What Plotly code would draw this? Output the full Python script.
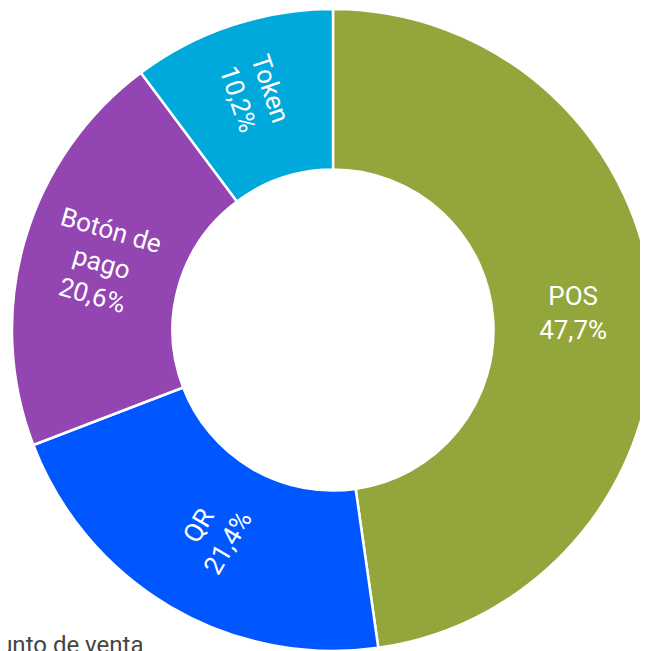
import math
import plotly.graph_objects as go

labels = ["POS", "QR", "Botón de pago", "Token"]
label_lines = ["POS", "QR", "Botón de<br>pago", "Token"]
values = [47.7, 21.4, 20.6, 10.2]
value_text = ["47,7%", "21,4%", "20,6%", "10,2%"]
colors = ["#93A63C", "#0057FF", "#9345B2", "#00A9DC"]
footnote = "Punto de venta"

slice_text = [f"{l}<br>{v}" for l, v in zip(label_lines, value_text)]
orientation = ["horizontal", "radial", "annot", "radial"]

W, H = 648, 651
M = dict(l=2, r=0, t=1, b=8)
HOLE = 0.5
FONT = dict(family="Roboto", size=26, color="white")

common = dict(
    labels=labels, values=values, hole=HOLE, sort=False,
    direction="clockwise", rotation=0, showlegend=False,
    hoverinfo="skip", textposition="inside", texttemplate="%{text}",
    insidetextfont=FONT,
)

fig = go.Figure(go.Pie(
    text=[t if o == "horizontal" else "" for t, o in zip(slice_text, orientation)],
    insidetextorientation="horizontal",
    marker=dict(colors=colors, line=dict(color="white", width=2.5)),
    **common,
))
fig.add_trace(go.Pie(
    text=[t if o == "radial" else "" for t, o in zip(slice_text, orientation)],
    insidetextorientation="radial",
    marker=dict(colors=["rgba(0,0,0,0)"] * len(values), line=dict(width=0)),
    **common,
))

# radial label for the slice that crosses 9 o'clock (plotly would force it horizontal)
pw, ph = W - M["l"] - M["r"], H - M["t"] - M["b"]
R = min(pw, ph) / 2
total = sum(values)
cum = 0
for v, t, o in zip(values, slice_text, orientation):
    mid = (cum + v / 2) / total * 2 * math.pi
    cum += v
    if o != "annot":
        continue
    rr = R * (HOLE + 1) / 2
    fig.add_annotation(
        text=t, xref="paper", yref="paper",
        x=0.5 + rr * math.sin(mid) / pw, y=0.5 + rr * math.cos(mid) / ph,
        xanchor="center", yanchor="middle", showarrow=False,
        textangle=math.degrees(mid) - 270, font=FONT,
    )

fig.add_annotation(
    text=footnote, xref="paper", yref="paper", x=-0.043, y=0.035,
    xanchor="left", yanchor="top", showarrow=False,
    font=dict(family="Roboto", size=24, color="#444444"),
)

fig.update_layout(
    width=W, height=H, margin=M,
    paper_bgcolor="white", plot_bgcolor="white",
    font=dict(family="Roboto"),
)

fig.write_html("out.html")
